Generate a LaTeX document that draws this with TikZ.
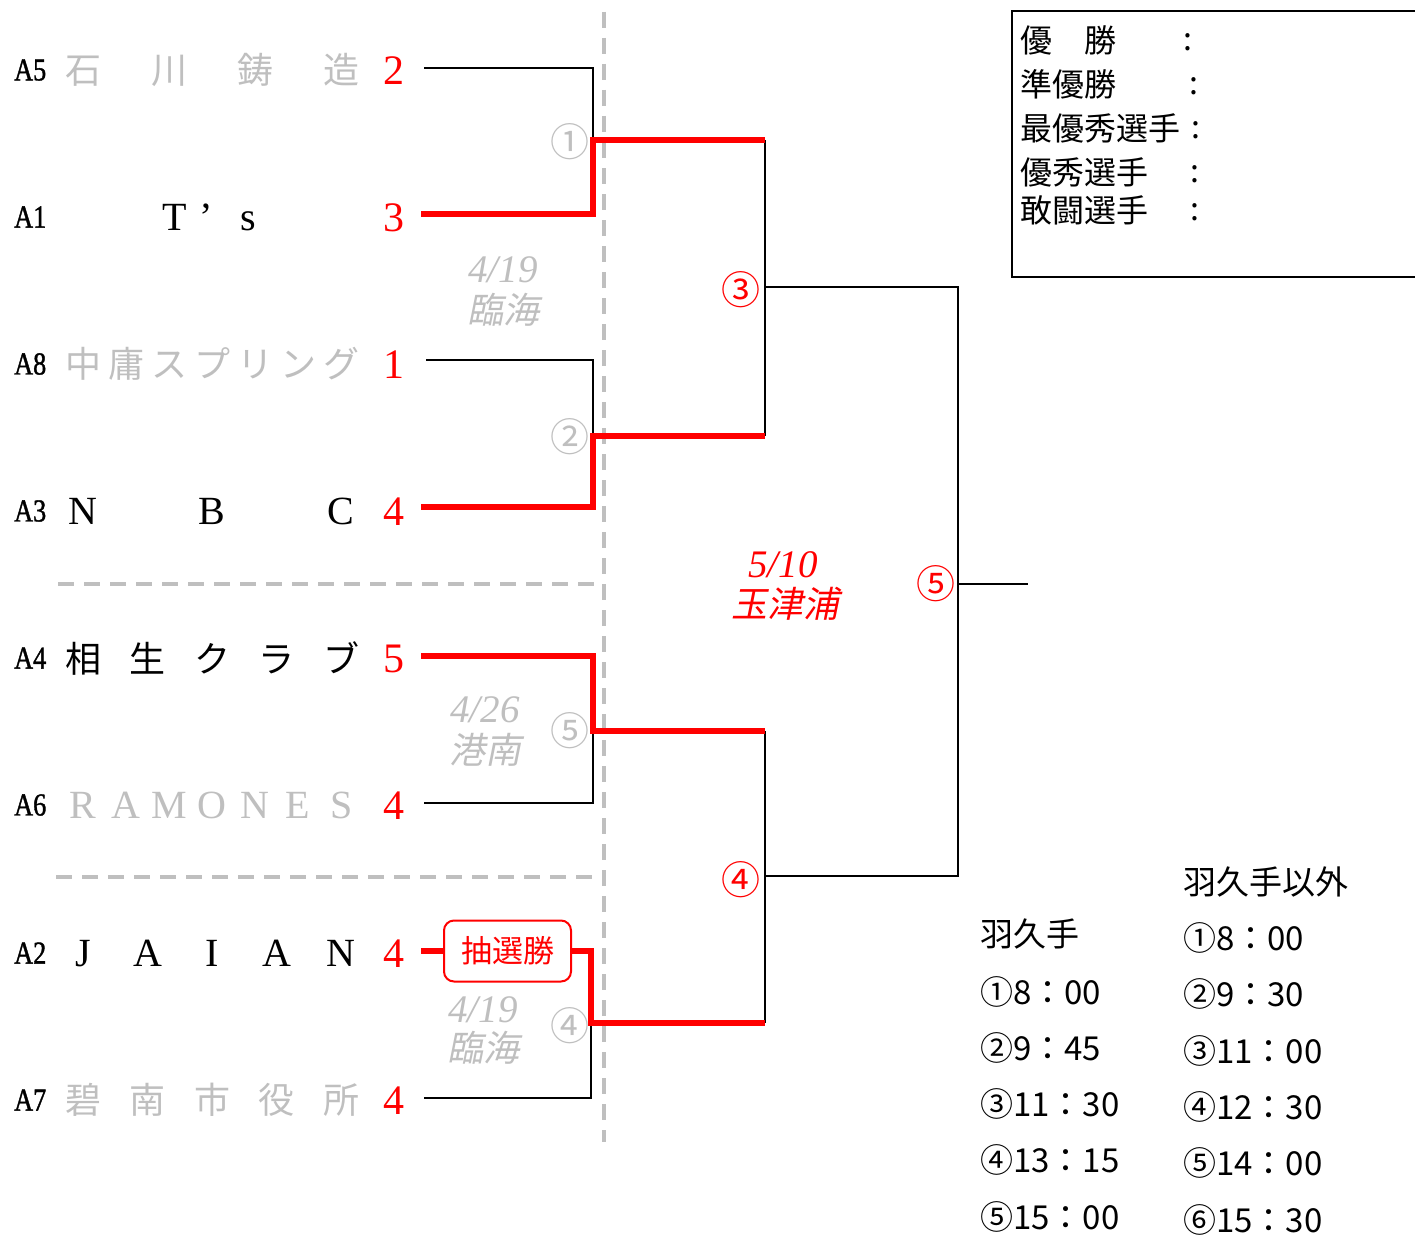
\documentclass[tikz,border=0pt]{standalone}
\usepackage{fontspec}
\setmainfont{Liberation Serif}
\newfontfamily\jp{Noto Sans CJK JP}
\newfontfamily\jpit{Noto Sans CJK JP}[FakeSlant=0.2]
\newfontfamily\lab{Liberation Serif}[FakeStretch=0.82, FakeBold=1.2]
\definecolor{lg}{RGB}{191,191,191}
\definecolor{rd}{RGB}{255,0,0}
\newcommand\fw[1]{\makebox[34pt]{#1}}
\tikzset{
  lbl/.style={anchor=west, inner sep=0, font=\lab\fontsize{32}{32}\selectfont},
  team/.style={anchor=west, inner sep=0, font=\fontsize{40}{40}\selectfont},
  score/.style={inner sep=0, text=rd, font=\fontsize{42}{42}\selectfont},
  circ/.style={inner sep=0, font=\jp\fontsize{39}{39}\selectfont},
  date/.style={inner sep=0, font=\itshape\fontsize{39}{39}\selectfont},
  datej/.style={inner sep=0, font=\jpit\fontsize{36}{36}\selectfont},
  lose/.style={line width=1.8pt, black},
  win/.style={line width=5.5pt, rd},
  sep/.style={line width=4pt, lg, dash pattern=on 16pt off 10pt},
  boxt/.style={anchor=west, inner sep=0, font=\jp\fontsize{32}{32}\selectfont},
  sched/.style={anchor=west, inner sep=0, font=\jp\fontsize{33}{33}\selectfont},
}
\begin{document}
\begin{tikzpicture}[x=1pt,y=-1pt]
\path[fill=white] (0,0) rectangle (1415,1236);
\useasboundingbox (0,0) rectangle (1415,1236);

% separators
\draw[sep] (604,12) -- (604,1142);
\draw[sep] (58,584) -- (604,584);
\draw[sep] (56,877) -- (604,877);

% labels
\node[lbl] (a5) at (14,70) {A5};
\node[lbl] (a1) at (14,217) {A1};
\node[lbl] (a8) at (14,364) {A8};
\node[lbl] (a3) at (14,511) {A3};
\node[lbl] (a4) at (14,658) {A4};
\node[lbl] (a6) at (14,805) {A6};
\node[lbl] (a2) at (14,953) {A2};
\node[lbl] (a7) at (14,1100) {A7};

% team names
\node[team, text=lg, font=\fontsize{36}{36}\selectfont] (n5) at (66,70) {\hbox to 292pt{\jp\fw{石}\hfill\fw{川}\hfill\fw{鋳}\hfill\fw{造}}};
\node[team] (n1) at (156,217) {\hbox{\makebox[37pt]{T}\makebox[37pt][l]{\hspace{6pt}’}\makebox[37pt]{s}}};
\node[team, text=lg, font=\fontsize{36}{36}\selectfont] (n8) at (66,364) {\hbox to 292pt{\jp\fw{中}\hfill\fw{庸}\hfill\fw{ス}\hfill\fw{プ}\hfill\fw{リ}\hfill\fw{ン}\hfill\fw{グ}}};
\node[team] (n3) at (66,511) {\hbox to 292pt{\fw{N}\hfill\fw{B}\hfill\fw{C}}};
\node[team, font=\fontsize{36}{36}\selectfont] (n4) at (66,658) {\hbox to 292pt{\jp\fw{相}\hfill\fw{生}\hfill\fw{ク}\hfill\fw{ラ}\hfill\fw{ブ}}};
\node[team, text=lg] (n6) at (66,805) {\hbox to 292pt{\fw{R}\hfill\fw{A}\hfill\fw{M}\hfill\fw{O}\hfill\fw{N}\hfill\fw{E}\hfill\fw{S}}};
\node[team] (n2) at (66,953) {\hbox to 292pt{\fw{J}\hfill\fw{A}\hfill\fw{I}\hfill\fw{A}\hfill\fw{N}}};
\node[team, text=lg, font=\fontsize{36}{36}\selectfont] (n7) at (66,1100) {\hbox to 292pt{\jp\fw{碧}\hfill\fw{南}\hfill\fw{市}\hfill\fw{役}\hfill\fw{所}}};

% scores
\node[score] (c5) at (394,71) {2};
\node[score] (c1) at (394,218) {3};
\node[score] (c8) at (394,365) {1};
\node[score] (c3) at (394,512) {4};
\node[score] (c4) at (394,659) {5};
\node[score] (c6) at (394,806) {4};
\node[score] (c2) at (394,954) {4};
\node[score] (c7) at (394,1101) {4};

% coordinates
\coordinate (p5) at (424,68);
\coordinate (p1) at (421,214);
\coordinate (p8) at (426,360);
\coordinate (p3) at (421,507);
\coordinate (p4) at (421,656);
\coordinate (p6) at (424,803);
\coordinate (p2) at (421,951);
\coordinate (p7) at (424,1098);
\coordinate (j1) at (593,140);
\coordinate (j2) at (593,436);
\coordinate (j5) at (593,731);
\coordinate (j4) at (591,1023);
\coordinate (r1) at (765,140);
\coordinate (r2) at (765,436);
\coordinate (r5) at (765,731);
\coordinate (r4) at (765,1023);
\coordinate (s3) at (765,287);
\coordinate (s4) at (765,876);
\coordinate (t4) at (958,876);
\coordinate (t5) at (958,584);
\coordinate (fin) at (1028,584);

% lottery box
\node[draw=rd, line width=2pt, rounded corners=10pt, fill=white, text=rd,
      minimum width=127pt, minimum height=61pt, inner sep=0,
      font=\jp\fontsize{31}{31}\selectfont] (lot) at (507.5,951) {抽選勝};

% losing lines
\draw[lose] (p5) -| (j1);
\draw[lose] (p8) -| (j2);
\draw[lose] (p6) -| (j5);
\draw[lose] (p7) -| (j4);
\draw[lose] (r1) -- (r2);
\draw[lose] (r5) -- (r4);
\draw[lose] (s3) -| (t4) -- (s4);
\draw[lose] (t5) -- (fin);

% winning lines
\draw[win] (p1) -| (j1) -- (r1);
\draw[win] (p3) -| (j2) -- (r2);
\draw[win] (p4) -| (j5) -- (r5);
\draw[win] (p2) -- (lot.west);
\draw[win] (lot.east) -| (j4) -- (r4);

% match numbers
\node[circ, text=lg] (g1) at (570,142) {①};
\node[circ, text=lg] (g2) at (570,437) {②};
\node[circ, text=lg] (g5) at (570,731) {⑤};
\node[circ, text=lg] (g4) at (570,1026) {④};
\node[circ, text=rd] (m3) at (741,290) {③};
\node[circ, text=rd] (m4) at (741,880) {④};
\node[circ, text=rd] (m5) at (936,584) {⑤};

% dates
\node[date, text=lg] (d1) at (503,270) {4/19};
\node[datej, text=lg] (v1) at (503,310) {臨海};
\node[date, text=lg] (d2) at (485,710) {4/26};
\node[datej, text=lg] (v2) at (485,750) {港南};
\node[date, text=lg] (d3) at (483,1010) {4/19};
\node[datej, text=lg] (v3) at (483,1048) {臨海};
\node[date, text=rd] (d4) at (783,565) {5/10};
\node[datej, text=rd] (v4) at (785,604) {玉津浦};

% awards box
\draw[line width=2pt] (1415,11) -- (1012,11) -- (1012,277) -- (1415,277);
\node[boxt] (w1) at (1020,40) {優　勝};
\node[boxt] (w2) at (1020,84) {準優勝};
\node[boxt] (w3) at (1020,128) {最優秀選手};
\node[boxt] (w4) at (1020,172) {優秀選手};
\node[boxt] (w5) at (1020,210) {敢闘選手};
\node[boxt] (k1) at (1183,42) {:};
\node[boxt] (k2) at (1189,86) {:};
\node[boxt] (k3) at (1191,130) {:};
\node[boxt] (k4) at (1190,174) {:};
\node[boxt] (k5) at (1190,212) {:};

% schedule
\node[sched] (h1) at (980,934) {羽久手};
\node[sched] (h2) at (1183,882) {羽久手以外};
\node[sched] (x1) at (980,992) {①8：00};
\node[sched] (x2) at (980,1048) {②9：45};
\node[sched] (x3) at (980,1104) {③11：30};
\node[sched] (x4) at (980,1160) {④13：15};
\node[sched] (x5) at (980,1217) {⑤15：00};
\node[sched] (y1) at (1183,938) {①8：00};
\node[sched] (y2) at (1183,994) {②9：30};
\node[sched] (y3) at (1183,1051) {③11：00};
\node[sched] (y4) at (1183,1107) {④12：30};
\node[sched] (y5) at (1183,1163) {⑤14：00};
\node[sched] (y6) at (1183,1220) {⑥15：30};
\end{tikzpicture}
\end{document}
